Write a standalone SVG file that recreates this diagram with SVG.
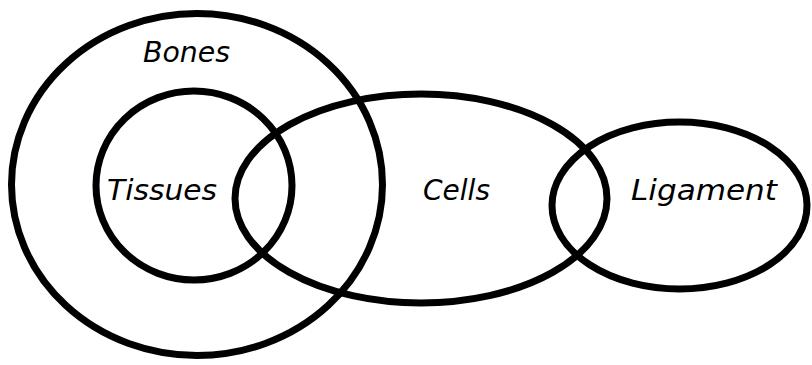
<svg xmlns="http://www.w3.org/2000/svg" width="812" height="365" viewBox="0 0 812 365">
<style>
.set{fill:none;stroke:#000;stroke-width:7}
.lbl{font-family:"DejaVu Sans",Verdana,sans-serif;font-style:italic;font-size:28px;fill:#000}
</style>
<rect width="812" height="365" fill="#fff"/>
<g id="bones"><ellipse class="set" cx="197" cy="184.5" rx="185.5" ry="171"/><text class="lbl" x="143" y="62" textLength="87" lengthAdjust="spacingAndGlyphs">Bones</text></g>
<g id="tissues"><ellipse class="set" cx="194" cy="185.5" rx="98" ry="94.5"/><text class="lbl" x="107" y="200" textLength="110" lengthAdjust="spacingAndGlyphs">Tissues</text></g>
<g id="cells"><ellipse class="set" cx="421" cy="198.5" rx="186" ry="104.5"/><text class="lbl" x="423" y="200" textLength="67" lengthAdjust="spacingAndGlyphs">Cells</text></g>
<g id="ligament"><ellipse class="set" cx="679.5" cy="205.5" rx="127.5" ry="83.5"/><text class="lbl" x="631" y="200" textLength="146" lengthAdjust="spacingAndGlyphs">Ligament</text></g>
<g id="connectors"/>
</svg>
